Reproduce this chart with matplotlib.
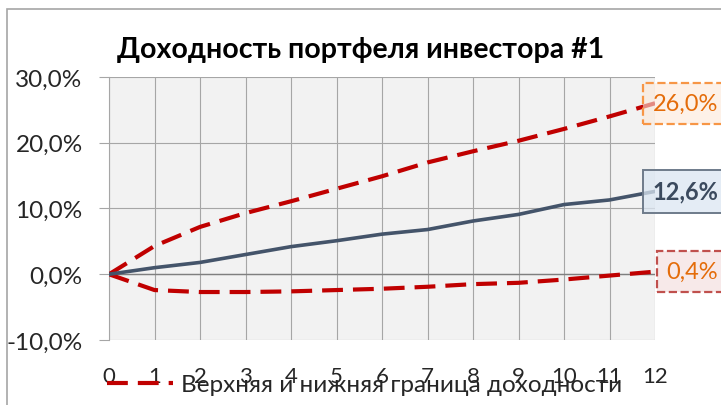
import matplotlib
matplotlib.use('Agg')
import matplotlib.pyplot as plt
from matplotlib.patches import Rectangle
from matplotlib.ticker import FuncFormatter

plt.rcParams['font.family'] = ['Lato', 'DejaVu Sans']

#-------data-------
months = [0, 1, 2, 3, 4, 5, 6, 7, 8, 9, 10, 11, 12]
upper = [0.0, 4.3, 7.2, 9.3, 11.1, 13.0, 14.9, 17.0, 18.7, 20.3, 22.1, 24.0, 26.0]
lower = [0.0, -2.4, -2.7, -2.7, -2.6, -2.4, -2.2, -1.9, -1.5, -1.3, -0.8, -0.2, 0.4]
mean = [0.0, 1.0, 1.8, 3.0, 4.2, 5.1, 6.1, 6.8, 8.1, 9.1, 10.6, 11.3, 12.6]
yticks = [-10, 0, 10, 20, 30]
title = 'Доходность портфеля инвестора #1'
legend_text = 'Верхняя и нижняя граница доходности'

red = '#c00000'
navy = '#44546a'

def pct(v):
    return ('%.1f%%' % v).replace('.', ',')

fig = plt.figure(figsize=(7.21, 4.06), dpi=100)
ax = fig.add_axes([0.1512, 0.160, 0.7573, 0.648])
ax.set_facecolor('#f2f2f2')

# outer chart frame
fig.patches.append(Rectangle((7/721, -0.1), 1.2, 1 - 10/406 + 0.1, transform=fig.transFigure,
                             fill=False, edgecolor='#a6a6a6', linewidth=1.2))

#-------lines-------
ax.plot(months, upper, color=red, lw=3, dashes=(5, 2.4), label=legend_text, zorder=3)
ax.plot(months, lower, color=red, lw=3, dashes=(5, 2.4), zorder=3)
ax.plot(months, mean, color=navy, lw=2.6, zorder=4)

ax.set_xlim(0, 12)
ax.set_ylim(-10, 30)
ax.set_xticks(months)
ax.set_yticks(yticks)
ax.yaxis.set_major_formatter(FuncFormatter(lambda v, p: pct(v)))
ax.grid(True, color='#a6a6a6', lw=0.8)
ax.set_axisbelow(True)
ax.axhline(0, color='#7f7f7f', lw=1.0, zorder=2)
for s in ['top', 'right', 'bottom']:
    ax.spines[s].set_visible(False)
ax.spines['left'].set_color('#a6a6a6')
ax.tick_params(axis='y', length=7, color='#a6a6a6', labelsize=17.5, labelcolor='#262626', pad=12)
ax.tick_params(axis='x', length=0, labelsize=16, labelcolor='#262626', pad=19)

#-------value labels-------
ax.annotate(pct(upper[-1]), (12, upper[-1]), xytext=(-1.5, 0), textcoords='offset points',
            ha='left', va='center', fontsize=17, color='#e46c0a', annotation_clip=False, zorder=5,
            bbox=dict(boxstyle='square,pad=0.42', fc=(0.99, 0.91, 0.85, 0.6), ec='#f79646', lw=1.6, ls='--'))
ax.annotate(pct(mean[-1]), (12, mean[-1]), xytext=(-1.5, 0), textcoords='offset points',
            ha='left', va='center', fontsize=17, color='#3b4a5e', fontweight='bold',
            annotation_clip=False, zorder=5,
            bbox=dict(boxstyle='square,pad=0.42', fc=(0.86, 0.90, 0.95, 0.75), ec='#6e7b8b', lw=1.4))
ax.annotate(pct(lower[-1]), (12, lower[-1]), xytext=(8.2, 0), textcoords='offset points',
            ha='left', va='center', fontsize=17, color='#e46c0a', annotation_clip=False, zorder=5,
            bbox=dict(boxstyle='square,pad=0.42', fc=(0.95, 0.86, 0.86, 0.6), ec='#c0504d', lw=1.6, ls='--'))

fig.text(0.5, 0.877, title, ha='center', va='center', fontsize=20.5, fontweight='bold', color='black')

fig.legend(loc='center left', bbox_to_anchor=(0.135, 0.05), frameon=False, fontsize=17.5,
           handlelength=2.7, handletextpad=0.35, borderaxespad=0, labelcolor='#262626')

plt.savefig('out.png', dpi=100)
